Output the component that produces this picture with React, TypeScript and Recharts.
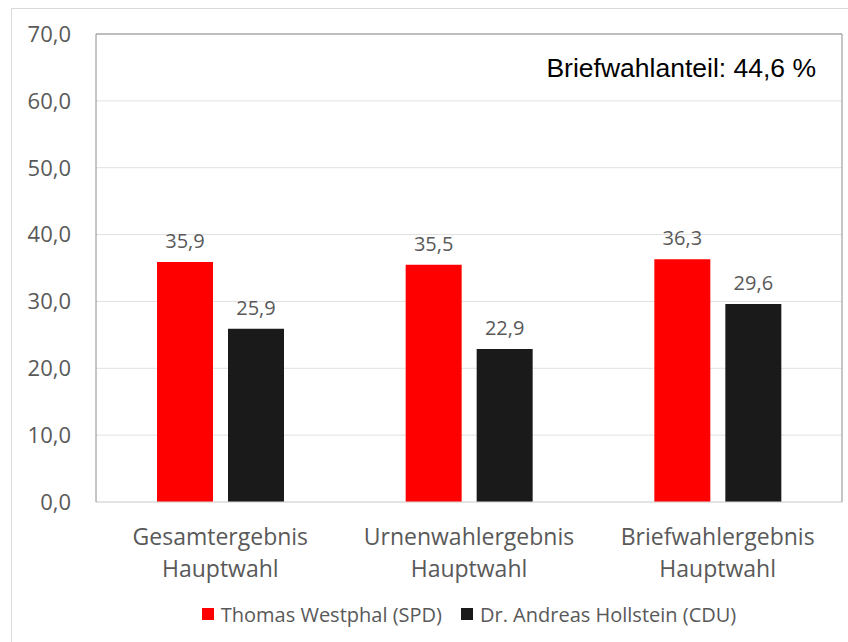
import React from "react";
import { BarChart, Bar, XAxis, YAxis, CartesianGrid, Legend, LabelList, ReferenceLine } from "recharts";

const categories = [
  ["Gesamtergebnis", "Hauptwahl"],
  ["Urnenwahlergebnis", "Hauptwahl"],
  ["Briefwahlergebnis", "Hauptwahl"],
];
const spd = [35.9, 35.5, 36.3];
const cdu = [25.9, 22.9, 29.6];
const yTicks = [0, 10, 20, 30, 40, 50, 60, 70];
const seriesNames = ["Thomas Westphal (SPD)", "Dr. Andreas Hollstein (CDU)"];
const seriesColors = ["#ff0000", "#1a1a1a"];
const note = "Briefwahlanteil: 44,6 %";

const data = categories.map((c, i) => ({ name: c.join(" "), spd: spd[i], cdu: cdu[i] }));

const FONT = "'Open Sans', 'Noto Sans', sans-serif";
const TEXT = "#595959";
const fmt = (v: number) => v.toFixed(1).replace(".", ",");

function CategoryTick(props: any) {
  const { x, y, index } = props;
  const lines = categories[index] || [];
  return (
    <text x={x} y={y} textAnchor="middle" fill={TEXT} fontSize={23} fontFamily={FONT}>
      {lines.map((l, i) => (
        <tspan key={i} x={x} y={y + 43 + i * 32}>{l}</tspan>
      ))}
    </text>
  );
}

function LegendContent() {
  return (
    <div style={{ height: 40, display: "flex", alignItems: "center", justifyContent: "center", fontFamily: FONT, fontSize: 20, color: TEXT }}>
      {seriesNames.map((n, i) => (
        <span key={n} style={{ display: "flex", alignItems: "center", marginRight: i === 0 ? 19 : 0 }}>
          <span style={{ width: 12, height: 12, background: seriesColors[i], display: "inline-block", marginRight: 7 }} />
          {n}
        </span>
      ))}
    </div>
  );
}

export default function App() {
  return (
    <div style={{ position: "absolute", left: 0, top: 0, width: 848, height: 642, overflow: "hidden", background: "#fff" }}>
      <div style={{ position: "absolute", left: 11, top: 8, width: 900, height: 700, border: "1px solid #d9d9d9" }} />
      <BarChart
        width={848}
        height={642}
        data={data}
        margin={{ top: 34, right: 0, left: 0, bottom: 8 }}
        barSize={56}
        barGap={15}
      >
        <CartesianGrid vertical={false} stroke="#e0e0e0" />
        <XAxis
          dataKey="name"
          height={92}
          tickLine={false}
          tickSize={0}
          tickMargin={0}
          axisLine={{ stroke: "#d9d9d9" }}
          tick={<CategoryTick />}
          interval={0}
        />
        <YAxis
          domain={[0, 70]}
          ticks={yTicks}
          width={96}
          tickLine={false}
          tickSize={0}
          tickMargin={25}
          axisLine={{ stroke: "#8c8c8c" }}
          tickFormatter={fmt}
          tick={{ fill: TEXT, fontSize: 22, fontFamily: FONT }}
        />
        <YAxis yAxisId="r" orientation="right" domain={[0, 70]} width={6} tick={false} tickLine={false} axisLine={{ stroke: "#8c8c8c" }} />
        <ReferenceLine y={70} stroke="#8c8c8c" />
        <Legend verticalAlign="bottom" wrapperStyle={{ left: 96, width: 746 }} content={<LegendContent />} />
        <Bar dataKey="spd" name={seriesNames[0]} fill={seriesColors[0]} isAnimationActive={false}>
          <LabelList dataKey="spd" position="top" offset={14} formatter={(v: any) => fmt(Number(v))} fill={TEXT} fontSize={20} fontFamily={FONT} />
        </Bar>
        <Bar dataKey="cdu" name={seriesNames[1]} fill={seriesColors[1]} isAnimationActive={false}>
          <LabelList dataKey="cdu" position="top" offset={14} formatter={(v: any) => fmt(Number(v))} fill={TEXT} fontSize={20} fontFamily={FONT} />
        </Bar>
      </BarChart>
      <div style={{ position: "absolute", right: 32, top: 53, fontFamily: "'Liberation Sans', Arial, sans-serif", fontSize: 26.5, color: "#000", whiteSpace: "nowrap" }}>
        {note}
      </div>
    </div>
  );
}
